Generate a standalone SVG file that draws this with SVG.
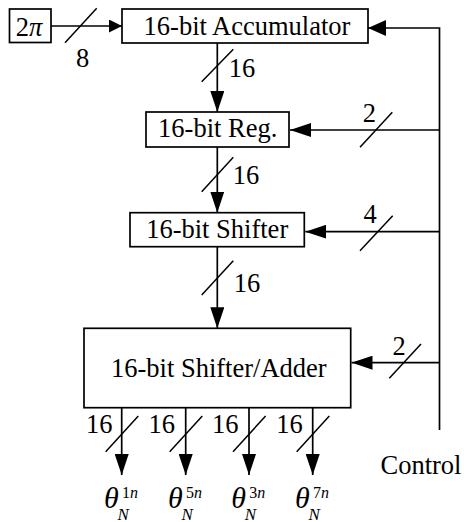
<svg xmlns="http://www.w3.org/2000/svg" width="464" height="522" viewBox="0 0 464 522" font-family="'Liberation Serif', 'Times New Roman', Times, 'DejaVu Serif', serif">
<style>
.box{fill:#fff;stroke:#000;stroke-width:1.7}
.ln{fill:none;stroke:#000;stroke-width:1.7}
.sl{stroke:#000;stroke-width:1.5}
.t,.th,.sup,.sub{font-family:'Liberation Serif', 'Times New Roman', Times, 'DejaVu Serif', serif;fill:#000}
.t{font-size:26.5px;text-anchor:middle}
.th{font-size:30px;font-style:italic}
.sup{font-size:16px}
.sub{font-size:17px;font-style:italic}
.i{font-style:italic}
</style>
<defs>
<marker id="ah" markerUnits="userSpaceOnUse" markerWidth="21" markerHeight="14" viewBox="0 0 21 14" refX="21" refY="7" orient="auto"><path d="M0,0 L21,7 L0,14 z" fill="#000"/></marker>
<marker id="ahs" markerUnits="userSpaceOnUse" markerWidth="13" markerHeight="13" viewBox="0 0 13 13" refX="13" refY="6.5" orient="auto"><path d="M0,0 L13,6.5 L0,13 z" fill="#000"/></marker>
<marker id="ahm" markerUnits="userSpaceOnUse" markerWidth="18" markerHeight="16" viewBox="0 0 18 16" refX="18" refY="8" orient="auto"><path d="M0,0 L18,8 L0,16 z" fill="#000"/></marker>
</defs>

<g id="connectors">
<path class="ln" d="M51,26 H122" marker-end="url(#ahs)"/>
<line class="sl" x1="65" y1="42.7" x2="96.7" y2="8.3"/>
<text class="t" x="82.5" y="66.5">8</text>

<path class="ln" d="M439.5,430 V28 H368" marker-end="url(#ahm)"/>

<path class="ln" d="M217.3,43 V112" marker-end="url(#ah)"/>
<line class="sl" x1="201.7" y1="81.7" x2="233.3" y2="49.3"/>
<text class="t" x="242" y="77.3">16</text>

<path class="ln" d="M217.3,147 V212.7" marker-end="url(#ah)"/>
<line class="sl" x1="201.7" y1="191.7" x2="233.3" y2="157.3"/>
<text class="t" x="246" y="184">16</text>

<path class="ln" d="M217.3,246.7 V328.3" marker-end="url(#ah)"/>
<line class="sl" x1="201.7" y1="295" x2="233.3" y2="260.7"/>
<text class="t" x="247" y="291.7">16</text>

<path class="ln" d="M439.5,130 H290" marker-end="url(#ah)"/>
<line class="sl" x1="360" y1="147.3" x2="392.3" y2="112.3"/>
<text class="t" x="369.3" y="121.7">2</text>

<path class="ln" d="M439.5,231.7 H305.3" marker-end="url(#ah)"/>
<line class="sl" x1="360" y1="250.7" x2="392.7" y2="215.7"/>
<text class="t" x="370" y="222.7">4</text>

<path class="ln" d="M439.5,362.7 H351.5" marker-end="url(#ah)"/>
<line class="sl" x1="389.3" y1="378.3" x2="421" y2="344"/>
<text class="t" x="399" y="355">2</text>

<path class="ln" d="M121.7,407.7 V475" marker-end="url(#ah)"/>
<line class="sl" x1="105.7" y1="451.7" x2="138.3" y2="416"/>
<text class="t" x="99.2" y="433.3">16</text>

<path class="ln" d="M185.7,407.7 V475" marker-end="url(#ah)"/>
<line class="sl" x1="169.7" y1="451.7" x2="202.3" y2="416"/>
<text class="t" x="161.7" y="433.3">16</text>

<path class="ln" d="M249,407.7 V475" marker-end="url(#ah)"/>
<line class="sl" x1="233" y1="451.7" x2="265.6" y2="416"/>
<text class="t" x="225.3" y="433.3">16</text>

<path class="ln" d="M312.7,407.7 V475" marker-end="url(#ah)"/>
<line class="sl" x1="296.7" y1="451.7" x2="329.3" y2="416"/>
<text class="t" x="289.5" y="433.3">16</text>
</g>

<g id="twopi">
<rect class="box" x="9.5" y="9" width="41.5" height="33.5"/>
<text class="t" x="29" y="36">2<tspan class="i">π</tspan></text>
</g>
<g id="accumulator">
<rect class="box" x="122" y="9" width="246" height="34"/>
<text class="t" x="247" y="35">16-bit Accumulator</text>
</g>
<g id="reg">
<rect class="box" x="146" y="112" width="143" height="35"/>
<text class="t" x="217.7" y="137">16-bit Reg.</text>
</g>
<g id="shifter">
<rect class="box" x="130" y="212.7" width="174.3" height="34"/>
<text class="t" x="217.2" y="238.3">16-bit Shifter</text>
</g>
<g id="adder">
<rect class="box" x="84" y="328.3" width="266.7" height="79.4"/>
<text class="t" x="218.8" y="377">16-bit Shifter/Adder</text>
</g>
<g id="control">
<text class="t" x="421" y="474">Control</text>
</g>
<g id="out1">
<text class="th" x="104" y="508">θ</text><text class="sup" x="122" y="498">1<tspan class="i">n</tspan></text><text class="sub" x="117.5" y="519.5">N</text>
</g>
<g id="out5">
<text class="th" x="168" y="508">θ</text><text class="sup" x="186" y="498">5<tspan class="i">n</tspan></text><text class="sub" x="181.5" y="519.5">N</text>
</g>
<g id="out3">
<text class="th" x="231.3" y="508">θ</text><text class="sup" x="249.3" y="498">3<tspan class="i">n</tspan></text><text class="sub" x="244.8" y="519.5">N</text>
</g>
<g id="out7">
<text class="th" x="295" y="508">θ</text><text class="sup" x="313" y="498">7<tspan class="i">n</tspan></text><text class="sub" x="308.5" y="519.5">N</text>
</g>
</svg>
